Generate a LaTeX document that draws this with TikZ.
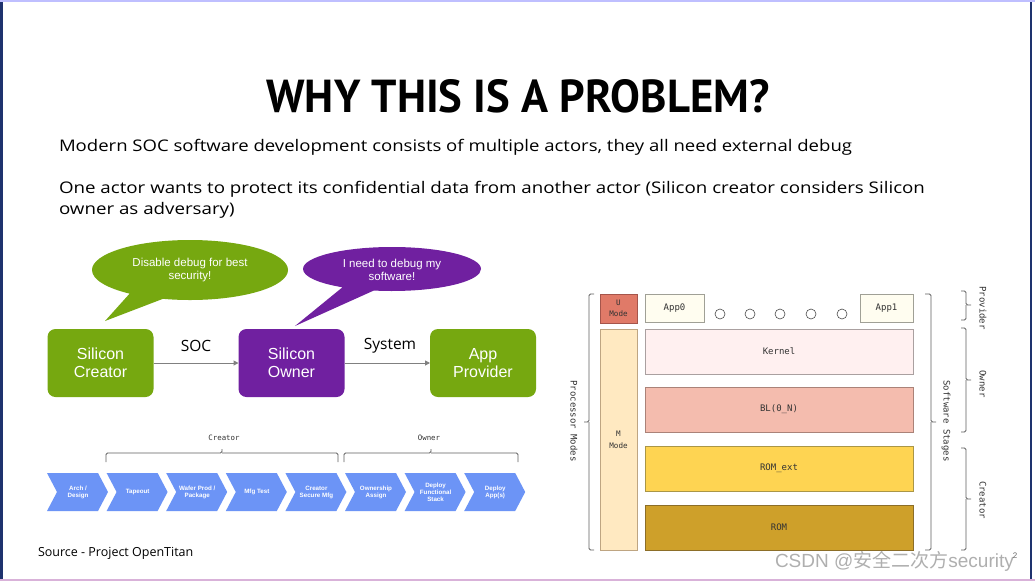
\documentclass[tikz,border=0pt]{standalone}
\usepackage{fontspec}
\setmainfont{PT Sans}
\newfontfamily\opens{Open Sans}
\newfontfamily\arialf{Liberation Sans}
\newfontfamily\monof{DejaVu Sans Mono}
\newfontfamily\cjkf{Noto Sans CJK SC}
\usetikzlibrary{arrows.meta,shapes.callouts,shapes.geometric}
\definecolor{cgreen}{RGB}{118,168,16}
\definecolor{cpurple}{RGB}{112,32,160}
\definecolor{cblue}{RGB}{108,148,246}
\definecolor{cgray}{RGB}{128,128,128}
\definecolor{bgray}{RGB}{95,95,95}
\definecolor{ufill}{RGB}{224,122,104}
\definecolor{uline}{RGB}{165,85,75}
\definecolor{mfill}{RGB}{255,233,193}
\definecolor{mline}{RGB}{190,165,130}
\definecolor{afill}{RGB}{255,253,240}
\definecolor{aline}{RGB}{160,160,150}
\definecolor{kfill}{RGB}{255,240,240}
\definecolor{kline}{RGB}{170,160,160}
\definecolor{blfill}{RGB}{244,188,174}
\definecolor{blline}{RGB}{170,130,120}
\definecolor{refill}{RGB}{254,212,82}
\definecolor{reline}{RGB}{170,150,70}
\definecolor{rfill}{RGB}{206,160,42}
\definecolor{rline}{RGB}{140,110,40}
\definecolor{navy}{RGB}{30,50,110}
\definecolor{wmark}{RGB}{175,175,175}
\newcommand\mybodyfont{\opens\fontsize{16}{19}\selectfont}
\newlength\wla
\newlength\wlb
\begin{document}
\settowidth\wla{\mybodyfont Modern SOC software development consists of multiple actors, they all need external debug}%
\settowidth\wlb{\mybodyfont One actor wants to protect its confidential data from another actor (Silicon creator considers Silicon}%
\pgfmathsetmacro\sxa{793pt/\wla}%
\pgfmathsetmacro\sxb{866pt/\wlb}%
\begin{tikzpicture}[x=1pt,y=-1pt,
  every node/.style={inner sep=0pt,outer sep=0pt},
  actor/.style={rounded corners=8pt, minimum width=106pt, minimum height=68pt, anchor=north west,
    text=white, align=center, font=\arialf\fontsize{16}{17.5}\selectfont},
  flow/.style={-{Triangle[length=5pt,width=5pt]}, draw=cgray, line width=1pt},
  flowlabel/.style={font=\opens\fontsize{15.5}{18}\selectfont, text=black},
  bubble/.style={ellipse callout, callout pointer arc=22},
  bubbletext/.style={align=center, text=white, font=\arialf\fontsize{11.5}{13}\selectfont},
  chevtext/.style={text=white, align=center, font=\arialf\bfseries\fontsize{6.2}{7}\selectfont},
  bracepath/.style={draw=bgray, line width=0.8pt, rounded corners=1.5pt},
  mono/.style={font=\monof\fontsize{9}{10.5}\selectfont, text=black!80},
  smallmono/.style={font=\monof\fontsize{7.4}{9}\selectfont, text=black!80},
  layer/.style={draw, line width=0.8pt, minimum width=268pt, minimum height=45pt, anchor=north west, mono},
  appbox/.style={draw=aline, fill=afill, line width=0.8pt, minimum height=28pt, anchor=north west, mono},
  dot/.style={circle, draw=black!70, fill=white, line width=0.6pt, minimum size=10pt}
]
\useasboundingbox (0,0) rectangle (1035,581);
\fill[white] (0,0) rectangle (1035,581);
% frame
\draw[navy, line width=3pt] (1.5,0) -- (1.5,581);
\draw[navy, line width=2pt] (1031,0) -- (1031,581);
\draw[blue!25, line width=1.5pt] (0,1) -- (1035,1);
\draw[violet!30, line width=2pt] (0,579.5) -- (1035,579.5);

% title and text
\node (title) at (518,96.5) {\resizebox{503pt}{33pt}{\bfseries WHY THIS IS A PROBLEM?}};
\node[anchor=base west] (l1) at (59,151)
  {\scalebox{\sxa}[1]{\mybodyfont Modern SOC software development consists of multiple actors, they all need external debug}};
\node[anchor=base west] (l2) at (59,193.5)
  {\scalebox{\sxb}[1]{\mybodyfont One actor wants to protect its confidential data from another actor (Silicon creator considers Silicon}};
\node[anchor=base west] (l3) at (59,214)
  {\scalebox{\sxb}[1]{\mybodyfont owner as adversary)}};

% bubbles
\node[bubble, fill=cgreen, minimum width=196pt, minimum height=60pt,
  callout absolute pointer={(105,321)}] (b1) at (190,270) {};
\node[bubbletext] (b1t) at (190,270.5) {Disable debug for best\\security!};
\node[bubble, fill=cpurple, minimum width=178pt, minimum height=44pt,
  callout absolute pointer={(295,326)}] (b2) at (392,269) {};
\node[bubbletext] (b2t) at (392,270) {I need to debug my\\software!};

% actors
\node[actor, fill=cgreen] (creator) at (47.5,329) {Silicon\\Creator};
\node[actor, fill=cpurple] (owner) at (238.5,329) {Silicon\\Owner};
\node[actor, fill=cgreen] (app) at (430,329) {App\\Provider};
\draw[flow] (creator) -- (owner);
\draw[flow] (owner) -- (app);
\node[flowlabel] (soc) at (196,346) {SOC};
\node[flowlabel] (sys) at (390,346) {System};

% chevrons
\foreach \i in {0,...,7} {
  \pgfmathsetmacro\xa{47+59.6*\i}
  \fill[cblue] (\xa,473) -- ++(51,0) -- ++(10,19) -- ++(-10,19) -- ++(-51,0) -- ++(10,-19) -- cycle;
}
\node[chevtext] (s1) at (78,492) {Arch /\\Design};
\node[chevtext] (s2) at (137.6,492) {Tapeout};
\node[chevtext] (s3) at (197.2,492) {Wafer Prod /\\Package};
\node[chevtext] (s4) at (256.8,492) {Mfg Test};
\node[chevtext] (s5) at (316.4,492) {Creator\\Secure Mfg};
\node[chevtext] (s6) at (376,492) {Ownership\\Assign};
\node[chevtext] (s7) at (435.6,492) {Deploy\\Functional\\Stack};
\node[chevtext] (s8) at (495.2,492) {Deploy\\App(s)};

% braces over chevrons
\draw[bracepath] (106,462) |- (222,453) -- (222,449) (222,453) -| (338,462);
\draw[bracepath] (344,462) |- (431,453) -- (431,449) (431,453) -| (518,462);
\node[smallmono] (crl) at (224,438) {Creator};
\node[smallmono] (owl) at (429,438) {Owner};

\node[anchor=west, font=\opens\fontsize{12.5}{15}\selectfont] (src) at (38,553) {Source - Project OpenTitan};

% right diagram
\node[draw=uline, fill=ufill, line width=0.8pt, minimum width=37pt, minimum height=29pt, anchor=north west,
  align=center, font=\monof\fontsize{7.6}{10.5}\selectfont, text=black!80] (umode) at (600,294) {U\\Mode};
\node[draw=mline, fill=mfill, line width=0.8pt, minimum width=37pt, minimum height=221pt, anchor=north west] (mmode) at (600,329) {};
\node[align=center, font=\monof\fontsize{7.6}{12.5}\selectfont, text=black!80] (mmt) at (618.5,440) {M\\Mode};
\node[appbox, minimum width=59pt] (app0) at (645,294) {App0};
\node[appbox, minimum width=53pt] (app1) at (860,294) {App1};
\foreach \xx/\n in {720/1,750/2,780/3,811/4,842/5}
  \node[dot] (c\n) at (\xx,314) {};
\node[layer, draw=kline, fill=kfill] (kernel) at (645,329) {Kernel};
\node[layer, draw=blline, fill=blfill] (bl) at (645,387) {BL(0\_N)};
\node[layer, draw=reline, fill=refill] (romext) at (645,446) {ROM\_ext};
\node[layer, draw=rline, fill=rfill] (rom) at (645,505) {ROM};

% braces right diagram
\draw[bracepath] (594,294) -| (589,422) -- (584,422) (589,422) |- (594,550);
\draw[bracepath] (925,294) -| (931,422) -- (936,422) (931,422) |- (925,550);
\draw[bracepath] (961,291) -| (966,305) -- (971,305) (966,305) |- (961,320);
\draw[bracepath] (961,328) -| (966,380) -- (971,380) (966,380) |- (961,432);
\draw[bracepath] (961,448) -| (966,499) -- (971,499) (966,499) |- (961,550);
\node[mono, rotate=-90] (pm) at (574,421) {Processor Modes};
\node[mono, rotate=-90] (ss) at (946,421) {Software Stages};
\node[mono, rotate=-90] (pv) at (983,308) {Provider};
\node[mono, rotate=-90] (ow) at (983,384) {Owner};
\node[mono, rotate=-90] (cr) at (983,500) {Creator};

% watermark
\node[anchor=west, text=wmark, font=\arialf\fontsize{19}{22}\selectfont] (wm) at (775,561)
  {CSDN @{\cjkf 安全二次方}security};
\node[font=\arialf\fontsize{8}{9}\selectfont, text=black!60] (pg) at (1015,556) {2};
\end{tikzpicture}
\end{document}
